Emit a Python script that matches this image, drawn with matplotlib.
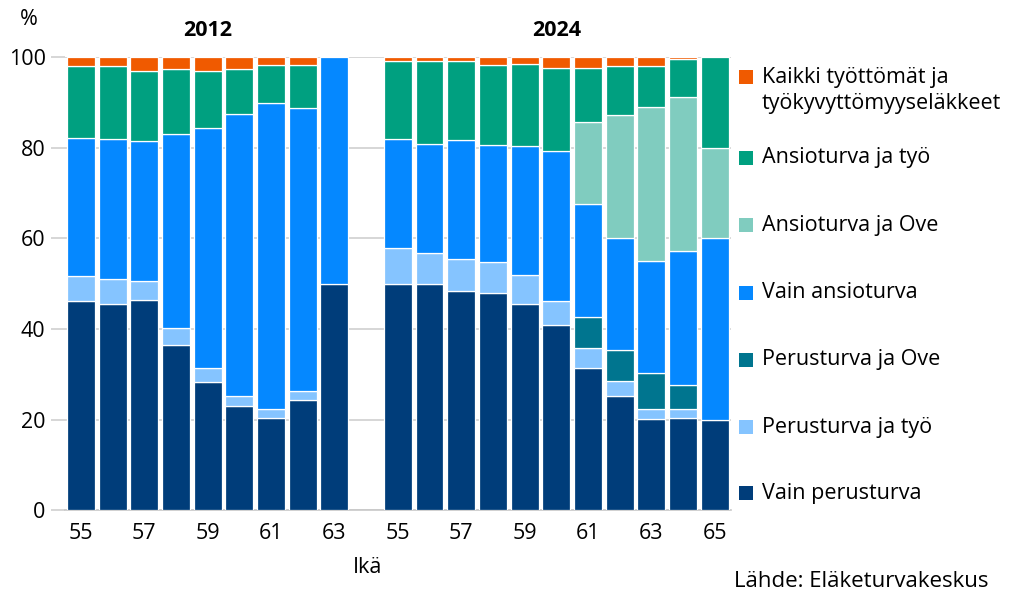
import numpy as np
import matplotlib.pyplot as plt
from matplotlib.patches import Rectangle

plt.rcParams['font.family'] = ['Open Sans', 'DejaVu Sans']

ages_2012 = [55, 56, 57, 58, 59, 60, 61, 62, 63]
ages_2024 = [55, 56, 57, 58, 59, 60, 61, 62, 63, 64, 65]

labels = ["Vain perusturva", "Perusturva ja työ", "Perusturva ja Ove", "Vain ansioturva",
          "Ansioturva ja Ove", "Ansioturva ja työ", "Kaikki työttömät ja\ntyökyvyttömyyseläkkeet"]
colors = ["#003d7a", "#85c4ff", "#00758f", "#0588ff", "#80ccbf", "#00a080", "#f05a00"]

# 2012 shares, %
perus_2012 = [46.2, 45.6, 46.3, 36.4, 28.2, 23.1, 20.4, 24.4, 50.0]
perus_tyo_2012 = [5.5, 5.5, 4.3, 3.8, 3.1, 2.1, 2.0, 2.0, 0]
perus_ove_2012 = [0, 0, 0, 0, 0, 0, 0, 0, 0]
ansio_2012 = [30.5, 30.8, 30.9, 42.7, 53.0, 62.2, 67.5, 62.3, 50.0]
ansio_ove_2012 = [0, 0, 0, 0, 0, 0, 0, 0, 0]
ansio_tyo_2012 = [15.8, 16.1, 15.5, 14.5, 12.7, 9.9, 8.3, 9.5, 0]
kaikki_2012 = [2.0, 2.0, 3.0, 2.6, 3.0, 2.7, 1.8, 1.8, 0]

# 2024 shares, %
perus_2024 = [50.0, 50.0, 48.4, 48.0, 45.4, 40.8, 31.3, 25.2, 20.2, 20.3, 20.0]
perus_tyo_2024 = [7.8, 6.8, 7.0, 6.8, 6.4, 5.4, 4.6, 3.3, 2.2, 2.1, 0]
perus_ove_2024 = [0, 0, 0, 0, 0, 0, 6.8, 6.8, 7.8, 5.2, 0]
ansio_2024 = [24.0, 24.1, 26.3, 25.8, 28.6, 33.0, 24.8, 24.7, 24.7, 29.6, 40.0]
ansio_ove_2024 = [0, 0, 0, 0, 0, 0, 18.2, 27.1, 34.0, 34.0, 20.0]
ansio_tyo_2024 = [17.4, 18.3, 17.5, 17.6, 18.1, 18.4, 11.9, 10.8, 9.2, 8.3, 20.0]
kaikki_2024 = [0.8, 0.8, 0.8, 1.8, 1.5, 2.4, 2.4, 2.1, 1.9, 0.5, 0]

s2012 = [perus_2012, perus_tyo_2012, perus_ove_2012, ansio_2012, ansio_ove_2012, ansio_tyo_2012, kaikki_2012]
s2024 = [perus_2024, perus_tyo_2024, perus_ove_2024, ansio_2024, ansio_ove_2024, ansio_tyo_2024, kaikki_2024]

x2012 = np.arange(len(ages_2012))
x2024 = np.arange(len(ages_2024)) + len(ages_2012) + 1

fig = plt.figure(figsize=(10.24, 6.06), dpi=100)
ax = fig.add_axes([0.0635, 0.158, 0.65, 0.748])

for xs, series in [(x2012, s2012), (x2024, s2024)]:
    bottom = np.zeros(len(xs))
    for i, vals in enumerate(series):
        vals = np.array(vals, dtype=float)
        mask = vals > 0
        ax.bar(xs[mask], vals[mask], bottom=bottom[mask], width=0.88, color=colors[i],
               edgecolor="white", linewidth=0.9, zorder=3)
        bottom += vals

ax.set_xlim(-0.5, x2024[-1] + 0.5)
ax.set_ylim(0, 100)
ax.set_yticks([0, 20, 40, 60, 80, 100])
ax.yaxis.grid(True, color="#d0d0d0", linewidth=1.2, zorder=0)
ax.tick_params(axis="y", length=10, color="#d0d0d0", width=1.2, labelsize=15.5, pad=4)
ax.tick_params(axis="x", length=0, labelsize=15.5, pad=9)

tick_pos = [x for x, a in zip(x2012, ages_2012) if a % 2] + [x for x, a in zip(x2024, ages_2024) if a % 2]
tick_lab = [str(a) for a in ages_2012 if a % 2] + [str(a) for a in ages_2024 if a % 2]
ax.set_xticks(tick_pos)
ax.set_xticklabels(tick_lab)

for side in ["top", "right", "left"]:
    ax.spines[side].set_visible(False)
ax.spines["bottom"].set_color("#c8c8c8")
ax.spines["bottom"].set_linewidth(1.2)

ax.text(np.mean(x2012), 103.5, "2012", ha="center", va="bottom", fontsize=15.5, fontweight="bold")
ax.text(np.mean(x2024), 103.5, "2024", ha="center", va="bottom", fontsize=15.5, fontweight="bold")

fig.text(0.019, 0.968, "%", fontsize=15.5, va="center")
fig.text(0.359, 0.063, "Ikä", fontsize=15.5, ha="center", va="center")
fig.text(0.717, 0.040, "Lähde: Eläketurvakeskus", fontsize=16, ha="left", va="center")

# legend, top to bottom
W, H = 1024, 606
leg_y = [77, 158, 225, 293, 360, 427, 493]
for k, (lab, col) in enumerate(zip(labels[::-1], colors[::-1])):
    yc = leg_y[k]
    fig.patches.append(Rectangle(((739) / W, 1 - (yc + 7) / H), 14 / W, 14 / H,
                                 transform=fig.transFigure, facecolor=col, edgecolor="none"))
    lines = lab.split("\n")
    for j, line in enumerate(lines):
        fig.text(762 / W, 1 - (yc + 27 * j) / H, line, fontsize=15.5, ha="left", va="center")

fig.savefig("out.png", dpi=100)
